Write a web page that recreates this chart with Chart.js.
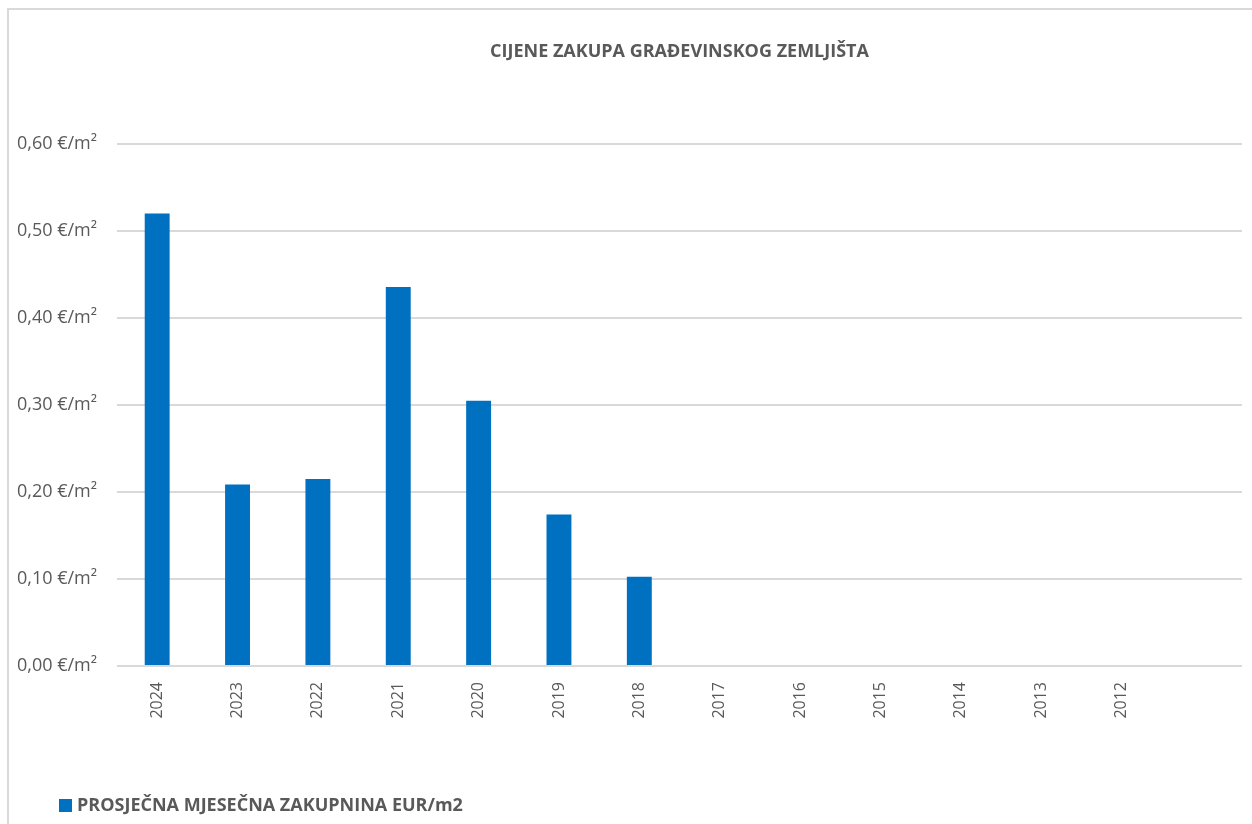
<!DOCTYPE html>
<html>
<head>
<meta charset="utf-8">
<script src="https://cdn.jsdelivr.net/npm/chart.js@4"></script>
<style>
  html, body { margin: 0; padding: 0; background: #fff; overflow: hidden; }
  #wrap { position: absolute; left: 0; top: 0; width: 1252px; height: 824px; }
  #frame { position: absolute; left: 7px; top: 8px; right: -10px; bottom: -10px; border-left: 2px solid #d9d9d9; border-top: 2px solid #d9d9d9; }
  canvas { position: absolute; left: 0; top: 0; }
</style>
</head>
<body>
<div id="wrap">
  <div id="frame"></div>
  <canvas id="chart" width="1252" height="824"></canvas>
</div>
<script>
// podaci
const title = 'CIJENE ZAKUPA GRAĐEVINSKOG ZEMLJIŠTA';
const seriesName = 'PROSJEČNA MJESEČNA ZAKUPNINA EUR/m2';
const years = ['2024', '2023', '2022', '2021', '2020', '2019', '2018', '2017', '2016', '2015', '2014', '2013', '2012', ''];
const rent = [0.52, 0.2085, 0.215, 0.4355, 0.305, 0.174, 0.1025, null, null, null, null, null, null, null];
const yMin = 0;
const yMax = 0.6;
const yStep = 0.1;

const textColor = '#595959';
const barColor = '#0070C0';
const fontFamily = "'Open Sans', 'Liberation Sans', sans-serif";

// naslov i legenda crtani ručno da stoje gdje su na originalu
const extras = {
  id: 'extras',
  afterDraw(chart) {
    const ctx = chart.ctx;
    const area = chart.chartArea;
    ctx.save();
    ctx.fillStyle = textColor;
    ctx.font = `bold 18px ${fontFamily}`;
    ctx.textAlign = 'center';
    ctx.textBaseline = 'middle';
    ctx.fillText(title, (area.left + area.right) / 2, 52);

    ctx.fillStyle = barColor;
    ctx.fillRect(59, 799, 13, 13);
    ctx.fillStyle = textColor;
    ctx.font = `bold 18px ${fontFamily}`;
    ctx.textAlign = 'left';
    ctx.fillText(seriesName, 77, 806);
    ctx.restore();
  }
};

new Chart(document.getElementById('chart'), {
  type: 'bar',
  data: {
    labels: years,
    datasets: [{
      label: seriesName,
      data: rent,
      backgroundColor: barColor,
      categoryPercentage: 1,
      barPercentage: 0.31
    }]
  },
  options: {
    responsive: false,
    animation: false,
    layout: { padding: { top: 144, right: 10, left: 0, bottom: 0 } },
    plugins: {
      legend: { display: false },
      title: { display: false },
      tooltip: { enabled: false }
    },
    scales: {
      x: {
        grid: { display: false },
        border: { display: false },
        ticks: {
          color: textColor,
          font: { family: fontFamily, size: 16 },
          minRotation: 90,
          maxRotation: 90,
          padding: 8,
          autoSkip: false
        },
        afterFit: s => { s.height = 824 - 666; }
      },
      y: {
        min: yMin,
        max: yMax,
        grid: { color: '#d9d9d9', lineWidth: 2, drawTicks: false },
        border: { display: false },
        ticks: {
          stepSize: yStep,
          color: textColor,
          font: { family: fontFamily, size: 18 },
          padding: 20,
          callback: v => v.toFixed(2).replace('.', ',') + ' €/m²'
        },
        afterFit: s => { s.width = 117; }
      }
    }
  },
  plugins: [extras]
});
</script>
</body>
</html>
